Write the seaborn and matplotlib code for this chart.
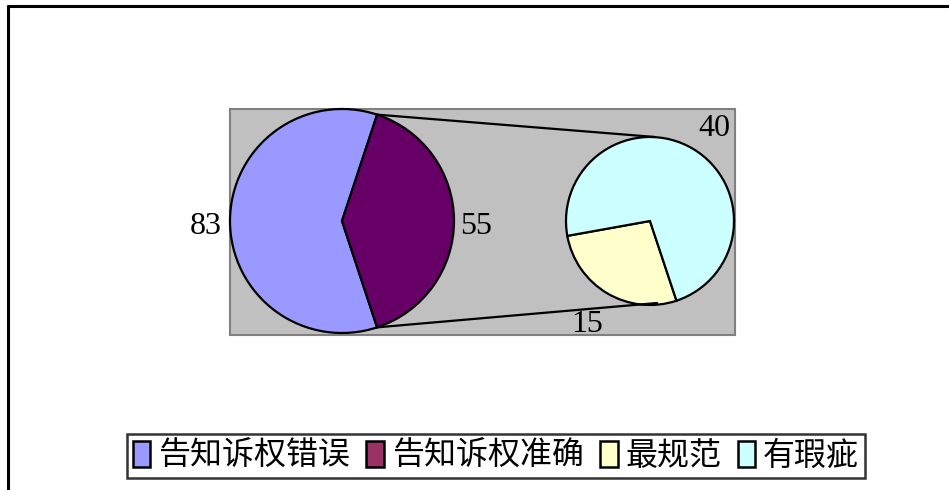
import numpy as np
import matplotlib
matplotlib.use("Agg")
import matplotlib.pyplot as plt
import seaborn as sns
from matplotlib.patches import Patch, Rectangle
from matplotlib.lines import Line2D

# ---- data ----
main_labels = ["告知诉权错误", "告知诉权准确"]
main_values = [83, 55]
sub_labels = ["最规范", "有瑕疵"]
sub_values = [15, 40]
legend_labels = ["告知诉权错误", "告知诉权准确", "最规范", "有瑕疵"]
main_colors = ["#9999FF", "#660066"]
sub_colors = ["#FFFFCC", "#CCFFFF"]
legend_colors = ["#9999FF", "#993366", "#FFFFCC", "#CCFFFF"]

sns.set_theme(style="white")
plt.rcParams["font.family"] = ["Liberation Serif", "Noto Sans CJK SC", "DejaVu Sans"]
plt.rcParams["text.color"] = "black"

W, H = 949, 490
fig = plt.figure(figsize=(W / 100, H / 100), dpi=100)
ax = fig.add_axes([0, 0, 1, 1])
ax.set_xlim(0, W)
ax.set_ylim(0, H)
ax.set_aspect("equal")
ax.axis("off")

# plot area
ax.add_patch(Rectangle((230, 155), 505, 226, facecolor="#C0C0C0",
                       edgecolor="#808080", linewidth=1.5, zorder=0))

mc = (342, 269)
mr = 112
sc = (650, 269)
sr = 84

total = sum(main_values)
half = main_values[1] / total * 180.0
ax.pie(main_values, colors=main_colors, startangle=half, counterclock=True,
       center=mc, radius=mr, frame=True,
       wedgeprops=dict(edgecolor="black", linewidth=1.6))
ax.pie(sub_values, colors=sub_colors, startangle=190.2, counterclock=True,
       center=sc, radius=sr, frame=True,
       wedgeprops=dict(edgecolor="black", linewidth=1.6))
ax.set_xlim(0, W)
ax.set_ylim(0, H)
ax.axis("off")

# connector lines
a = np.deg2rad(half)
top_main = (mc[0] + mr * np.cos(a), mc[1] + mr * np.sin(a))
bot_main = (mc[0] + mr * np.cos(a), mc[1] - mr * np.sin(a))
ax.plot([top_main[0], sc[0] + 5], [top_main[1], sc[1] + sr], color="black", lw=1.6, zorder=5)
ax.plot([bot_main[0], sc[0] + 7], [bot_main[1], sc[1] - sr + 2], color="black", lw=1.6, zorder=5)

# value labels
fs = 23
kw = dict(fontsize=fs, family="Liberation Serif", color="black")
ax.text(222, 264, str(main_values[0]), ha="right", va="center", **kw)
ax.text(460, 264, str(main_values[1]), ha="left", va="center", **kw)
ax.text(714, 362, str(sub_values[1]), ha="center", va="center", **kw)
ax.text(587, 165, str(sub_values[0]), ha="center", va="center", **kw)

# legend
handles = [Patch(facecolor=c, edgecolor="black", linewidth=1.8) for c in legend_colors]
leg = fig.legend(handles, legend_labels, ncol=4, loc="center",
                 bbox_to_anchor=(496 / W, 1 - 456 / H), frameon=True, fancybox=False,
                 prop={"family": ["Noto Sans CJK SC"], "size": 23},
                 handlelength=0.55, handleheight=0.85, handletextpad=0.25,
                 columnspacing=0.5, borderpad=0.2, borderaxespad=0)
leg.get_frame().set_edgecolor("black")
leg.get_frame().set_linewidth(1.8)

# figure border (top and left)
fig.add_artist(Line2D([8 / W, 948 / W], [1 - 6 / H, 1 - 6 / H], color="black", lw=2.2, transform=fig.transFigure))
fig.add_artist(Line2D([8 / W, 8 / W], [1 - 6 / H, 0], color="black", lw=2.2, transform=fig.transFigure))

fig.savefig("out.png", dpi=100, facecolor="white")
